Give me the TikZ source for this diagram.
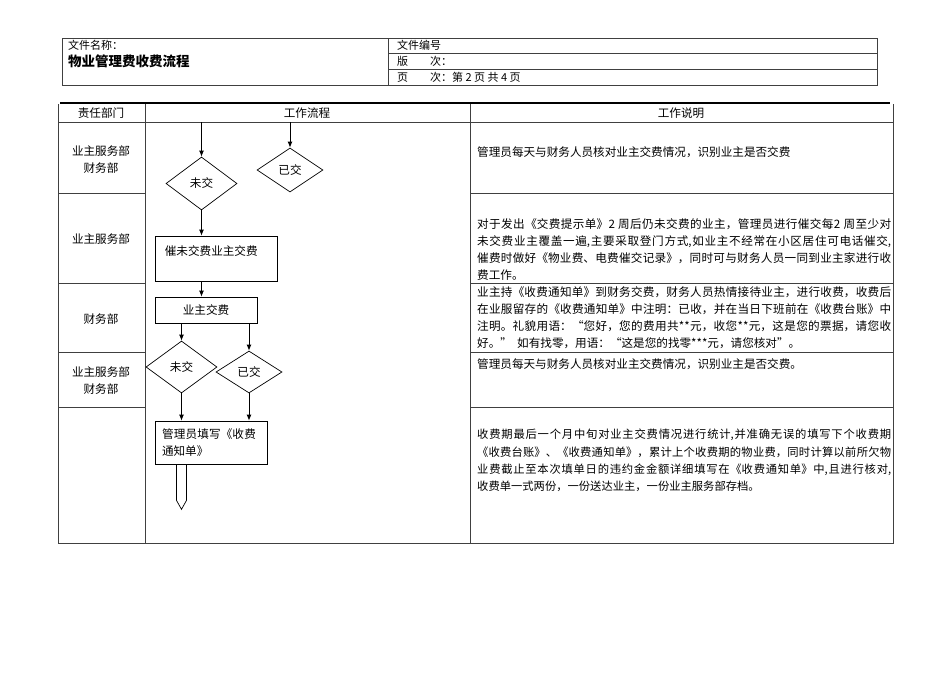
\documentclass[tikz,border=0pt]{standalone}
\usepackage{fontspec}
\setmainfont{Noto Sans CJK SC}
\usetikzlibrary{shapes.geometric,arrows.meta,positioning}
\XeTeXlinebreaklocale "zh"
\XeTeXlinebreakskip=0pt plus 1pt

\tikzset{
	frame/.style={draw=black!75, line width=0.6pt},
	cell/.style={font=\fontsize{11.6}{17.3}\selectfont, inner sep=0pt},
	note/.style={cell, anchor=north west, text width=414pt, align=justify},
	flowbox/.style={draw, line width=0.7pt, inner sep=0pt, font=\fontsize{11.6}{17}\selectfont},
	choice/.style={draw, diamond, line width=0.7pt, inner sep=0pt, font=\fontsize{11.6}{13}\selectfont},
	arr/.style={line width=0.9pt, -{Latex[length=6pt,width=5pt]}},
}

\begin{document}
\begin{tikzpicture}[x=1pt, y=-1pt]
	\useasboundingbox (0,0) rectangle (950,672);
	% header block
	\draw[frame] (62,38) rectangle (877,85);
	\draw[frame] (388,38) -- (388,85);
	\draw[frame] (388,53) -- (877,53) (388,69) -- (877,69);
	\node[cell, anchor=west, font=\fontsize{11}{13}\selectfont] (fname) at (68,45) {文件名称：};
	\node[cell, anchor=west, font=\fontsize{13.5}{15}\selectfont\bfseries] (title) at (68,61) {物业管理费收费流程};
	\node[cell, anchor=west, font=\fontsize{11}{13}\selectfont] (fnum) at (397,45) {文件编号};
	\node[cell, anchor=west, font=\fontsize{11}{13}\selectfont] (fver) at (397,61) {版　　次：};
	\node[cell, anchor=west, font=\fontsize{11}{13}\selectfont] (fpage) at (397,77) {页　　次：第 2 页 共 4 页};
	% table frame
	\draw[line width=1.5pt] (60,103) -- (890,103);
	\draw[frame] (58,104) -- (58,543) -- (893,543) -- (893,104);
	\draw[frame] (145,104) -- (145,543) (470,104) -- (470,543);
	\draw[frame] (58,122) -- (893,122);
	\foreach \y in {193,283,352,407}
		\draw[frame] (58,\y) -- (145,\y) (470,\y) -- (893,\y);
	\node[cell] (hdept) at (101,113) {责任部门};
	\node[cell] (hflow) at (307,113) {工作流程};
	\node[cell] (hnote) at (681,113) {工作说明};
	% departments
	\node[cell, align=center] (dept1) at (101,159.5) {业主服务部\\财务部};
	\node[cell] (dept2) at (101,239) {业主服务部};
	\node[cell] (dept3) at (101,319) {财务部};
	\node[cell, align=center] (dept4) at (101,380.5) {业主服务部\\财务部};
	% notes
	\node[note] (note1) at (477,146) {管理员每天与财务人员核对业主交费情况，识别业主是否交费};
	\node[note] (note2) at (477,218) {对于发出《交费提示单》2 周后仍未交费的业主，管理员进行催交每2 周至少对\linebreak
		未交费业主覆盖一遍,主要采取登门方式,如业主不经常在小区居住可电话催交,\linebreak
		催费时做好《物业费、电费催交记录》，同时可与财务人员一同到业主家进行收\linebreak
		费工作。};
	\node[note] (note3) at (477,286) {业主持《收费通知单》到财务交费，财务人员热情接待业主，进行收费，收费后\linebreak
		在业服留存的《收费通知单》中注明：已收，并在当日下班前在《收费台账》中\linebreak
		注明。礼貌用语：“您好，您的费用共**元，收您**元，这是您的票据，请您收\linebreak
		好。”\ \ 如有找零，用语：“这是您的找零***元，请您核对”。};
	\node[note] (note4) at (477,358) {管理员每天与财务人员核对业主交费情况，识别业主是否交费。};
	\node[note, font=\fontsize{11.3}{17.3}\selectfont] (note5) at (477,429) {收费期最后一个月中旬对业主交费情况进行统计,并准确无误的填写下个收费期\linebreak
		《收费台账》、《收费通知单》，累计上个收费期的物业费，同时计算以前所欠物\linebreak
		业费截止至本次填单日的违约金金额详细填写在《收费通知单》中,且进行核对,\linebreak
		收费单一式两份，一份送达业主，一份业主服务部存档。};
	% flow
	\coordinate (in1) at (201.5,122);
	\coordinate (in2) at (290,122);
	\node[choice, minimum width=71pt, minimum height=53pt] (unpaid1) at (201.5,183.5) {未交};
	\node[choice, minimum width=66pt, minimum height=44pt] (paid1) at (290,170) {已交};
	\node[flowbox, minimum width=122pt, minimum height=45pt,
		label={[cell, anchor=north west, xshift=10pt, yshift=-10pt]north west:催未交费业主交费}] (urge) at (216,258.5) {};
	\node[flowbox, minimum width=102pt, minimum height=26pt] (pay) at (206,310) {业主交费};
	\node[choice, minimum width=71pt, minimum height=52pt] (unpaid2) at (181.5,367) {未交};
	\node[choice, minimum width=66pt, minimum height=42pt] (paid2) at (249,372) {已交};
	\node[flowbox, minimum width=112pt, minimum height=43pt, text width=98pt, align=left] (fill) at (211,442.5) {管理员填写《收费通知单》};
	\draw[arr] (in1) -- (unpaid1.north);
	\draw[arr] (in2) -- (paid1.north);
	\draw[arr] (unpaid1.south) -- (unpaid1.south |- urge.north);
	\draw[arr] (urge.south -| unpaid1.south) -- (pay.north -| unpaid1.south);
	\draw[arr] (pay.south -| unpaid2.north) -- (unpaid2.north);
	\draw[arr] (pay.south -| paid2.north) -- (paid2.north);
	\draw[arr] (unpaid2.south) -- (unpaid2.south |- fill.north);
	\draw[arr] (paid2.south) -- (paid2.south |- fill.north);
	% off-page connector
	\coordinate (next) at (fill.south -| unpaid2.south);
	\draw[line width=0.7pt] (next) ++(-5,0) -- ++(0,36) -- ++(5,9) -- ++(5,-9) -- ++(0,-36);
\end{tikzpicture}
\end{document}
